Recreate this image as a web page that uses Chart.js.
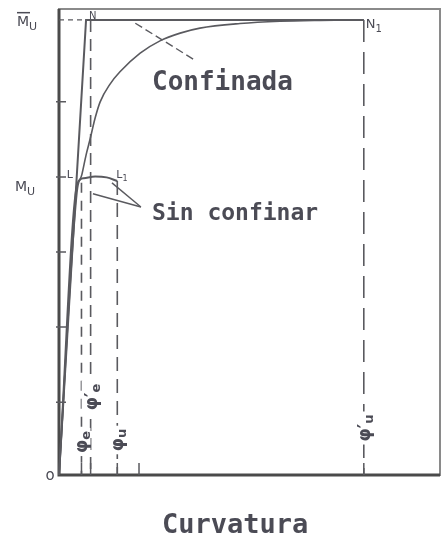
<!DOCTYPE html>
<html>
<head>
<meta charset="utf-8">
<script src="https://cdn.jsdelivr.net/npm/chart.js@4.4.1/dist/chart.umd.min.js"></script>
<style>
  html, body { margin: 0; padding: 0; background: #fff; }
  canvas { display: block; }
</style>
</head>
<body>
<canvas id="curvatura" width="444" height="541"></canvas>
<script>
// moment levels, M̄u = 1
const mConf = 1.0;
const mUnconf = 0.642;

// curvatures: φe, φ'e, φu, φ'u
const phiE = 5.9, phiEc = 8.3, phiU = 15.3, phiUc = 80;

// bilinear idealisation O - N - N1
const idealConfined = [[0, 0], [7.1, 1.0], [80, 1.0]];
// real curve of the confined section
const confinedCurve = [[0, 0], [4.7, 0.62], [6.0, 0.66], [7.1, 0.703], [8.1, 0.736], [9.5, 0.785],
  [10.8, 0.82], [13.4, 0.859], [16, 0.886], [21.3, 0.927], [26.5, 0.954], [31.8, 0.971],
  [37, 0.982], [47.5, 0.992], [58, 0.997], [68.5, 0.999], [80, 1.0]];
// unconfined section O - L - L1
const unconfinedCurve = [[0, 0], [4.9, 0.642], [6.5, 0.652], [9.5, 0.656], [12.5, 0.654], [15.3, 0.646]];

// pointers from the two captions
const confPointer = [[35.2, 0.914], [19.4, 0.996]];
const unconfPointerA = [[21.5, 0.589], [13.9, 0.642]];
const unconfPointerB = [[21.5, 0.589], [8.9, 0.618]];

const yTicks = [0.16, 0.325, 0.49, 0.655, 0.82];
const xTicks = [5.9, 8.3, 15.3, 21, 80];

const ink = '#5a5a5f';
const txt = '#4b4b55';
const pts = arr => arr.map(([x, y]) => ({ x, y }));

function line(data, opts = {}) {
  return Object.assign({
    data: pts(data), showLine: true, pointRadius: 0, borderColor: ink,
    borderWidth: 1.8, fill: false, clip: false
  }, opts);
}

const decor = {
  id: 'decor',
  beforeDatasetsDraw(chart) {
    const { ctx, chartArea: a, scales: { x, y } } = chart;
    ctx.save();
    // box
    ctx.strokeStyle = '#8a8a8a';
    ctx.lineWidth = 2;
    ctx.strokeRect(a.left, a.top, a.right - a.left, a.bottom - a.top);
    // axes
    ctx.strokeStyle = '#4a4a4a';
    ctx.lineWidth = 3;
    ctx.beginPath();
    ctx.moveTo(a.left, a.top);
    ctx.lineTo(a.left, a.bottom);
    ctx.lineTo(a.right, a.bottom);
    ctx.stroke();
    // tick marks
    ctx.strokeStyle = ink;
    ctx.lineWidth = 1.5;
    ctx.beginPath();
    yTicks.forEach(v => {
      const py = y.getPixelForValue(v);
      ctx.moveTo(a.left - 3, py);
      ctx.lineTo(a.left + 7, py);
    });
    xTicks.forEach(v => {
      const px = x.getPixelForValue(v);
      ctx.moveTo(px, a.bottom);
      ctx.lineTo(px, a.bottom - 12);
    });
    ctx.stroke();
    ctx.restore();
  },
  afterDatasetsDraw(chart) {
    const { ctx, chartArea: a, scales: { x, y } } = chart;
    ctx.save();
    ctx.fillStyle = txt;
    ctx.textBaseline = 'alphabetic';

    const sub = (main, s, px, py, size) => {
      ctx.font = size + 'px "DejaVu Sans"';
      ctx.fillText(main, px, py);
      const w = ctx.measureText(main).width;
      ctx.font = Math.round(size * 0.75) + 'px "DejaVu Sans"';
      ctx.fillText(s, px + w, py + size * 0.3);
    };

    // moment labels
    const yM = y.getPixelForValue(mConf);
    const yMu = y.getPixelForValue(mUnconf);
    sub('M', 'U', 17, yM + 6, 14);
    ctx.fillRect(17, yM - 8, 13, 1.5);
    sub('M', 'U', 15, yMu + 8, 14);

    // point names
    sub('N', '', x.getPixelForValue(7.1) + 3, yM - 1, 10);
    sub('N', '1', x.getPixelForValue(80) + 2, yM + 8, 13);
    sub('L', '', x.getPixelForValue(4.9) - 11, yMu - 5, 11);
    sub('L', '1', x.getPixelForValue(15.3) - 1, yMu - 5, 11);

    // origin
    ctx.font = '15px "DejaVu Sans"';
    ctx.textAlign = 'center';
    ctx.fillText('o', a.left - 9, a.bottom + 5);
    ctx.textAlign = 'left';

    // curvature labels, rotated along the dashed lines
    const phiLabel = (v, prime, s, cy) => {
      const px = x.getPixelForValue(v);
      ctx.save();
      ctx.translate(px, cy);
      ctx.rotate(-Math.PI / 2);
      ctx.font = 'bold 17px "DejaVu Sans"';
      const main = prime ? 'φ\u2032' : 'φ';
      const w = ctx.measureText(main).width;
      ctx.font = 'bold 13px "DejaVu Sans"';
      const ws = ctx.measureText(s).width;
      const tw = w + ws;
      ctx.fillStyle = '#fff';
      ctx.fillRect(-tw / 2 - 3, -9, tw + 6, 18);
      ctx.fillStyle = txt;
      ctx.font = 'bold 17px "DejaVu Sans"';
      ctx.fillText(main, -tw / 2, 6);
      ctx.font = 'bold 13px "DejaVu Sans"';
      ctx.fillText(s, -tw / 2 + w, 9);
      ctx.restore();
    };
    phiLabel(phiE, false, 'e', 442);
    phiLabel(phiEc, true, 'e', 397);
    phiLabel(phiU, false, 'u', 440);
    phiLabel(phiUc, true, 'u', 428);

    // captions
    ctx.font = 'bold 26px "DejaVu Sans Mono"';
    ctx.fillText('Confinada', 152, 90);
    ctx.font = 'bold 23px "DejaVu Sans Mono"';
    ctx.fillText('Sin confinar', 152, 220);
    ctx.font = 'bold 27px "DejaVu Sans Mono"';
    ctx.fillText('Curvatura', 162, 533);
    ctx.restore();
  }
};

new Chart(document.getElementById('curvatura'), {
  type: 'scatter',
  data: {
    datasets: [
      line(idealConfined, { borderWidth: 2 }),
      line(confinedCurve, { cubicInterpolationMode: 'monotone', borderWidth: 1.6 }),
      line(unconfinedCurve, { cubicInterpolationMode: 'monotone', borderWidth: 2 }),
      line([[0, mConf], [7.1, mConf]], { borderDash: [5, 4], borderWidth: 1.4 }),
      line([[phiE, mUnconf], [phiE, 0]], { borderDash: [10, 8], borderWidth: 1.6 }),
      line([[phiEc, mConf], [phiEc, 0]], { borderDash: [12, 7], borderWidth: 1.6 }),
      line([[phiU, 0.646], [phiU, 0]], { borderDash: [14, 8], borderWidth: 1.6 }),
      line([[phiUc, mConf], [phiUc, 0]], { borderDash: [22, 10], borderWidth: 1.6 }),
      line(confPointer, { borderDash: [8, 4], borderWidth: 1.4 }),
      line(unconfPointerA, { borderWidth: 1.4 }),
      line(unconfPointerB, { borderWidth: 1.4 })
    ]
  },
  options: {
    responsive: false,
    animation: false,
    layout: { padding: { left: 59, right: 4, top: 9, bottom: 66 } },
    plugins: { legend: { display: false }, tooltip: { enabled: false } },
    scales: {
      x: { type: 'linear', min: 0, max: 100, display: false },
      y: { type: 'linear', min: 0, max: 1.024, display: false }
    }
  },
  plugins: [decor]
});
</script>
</body>
</html>
